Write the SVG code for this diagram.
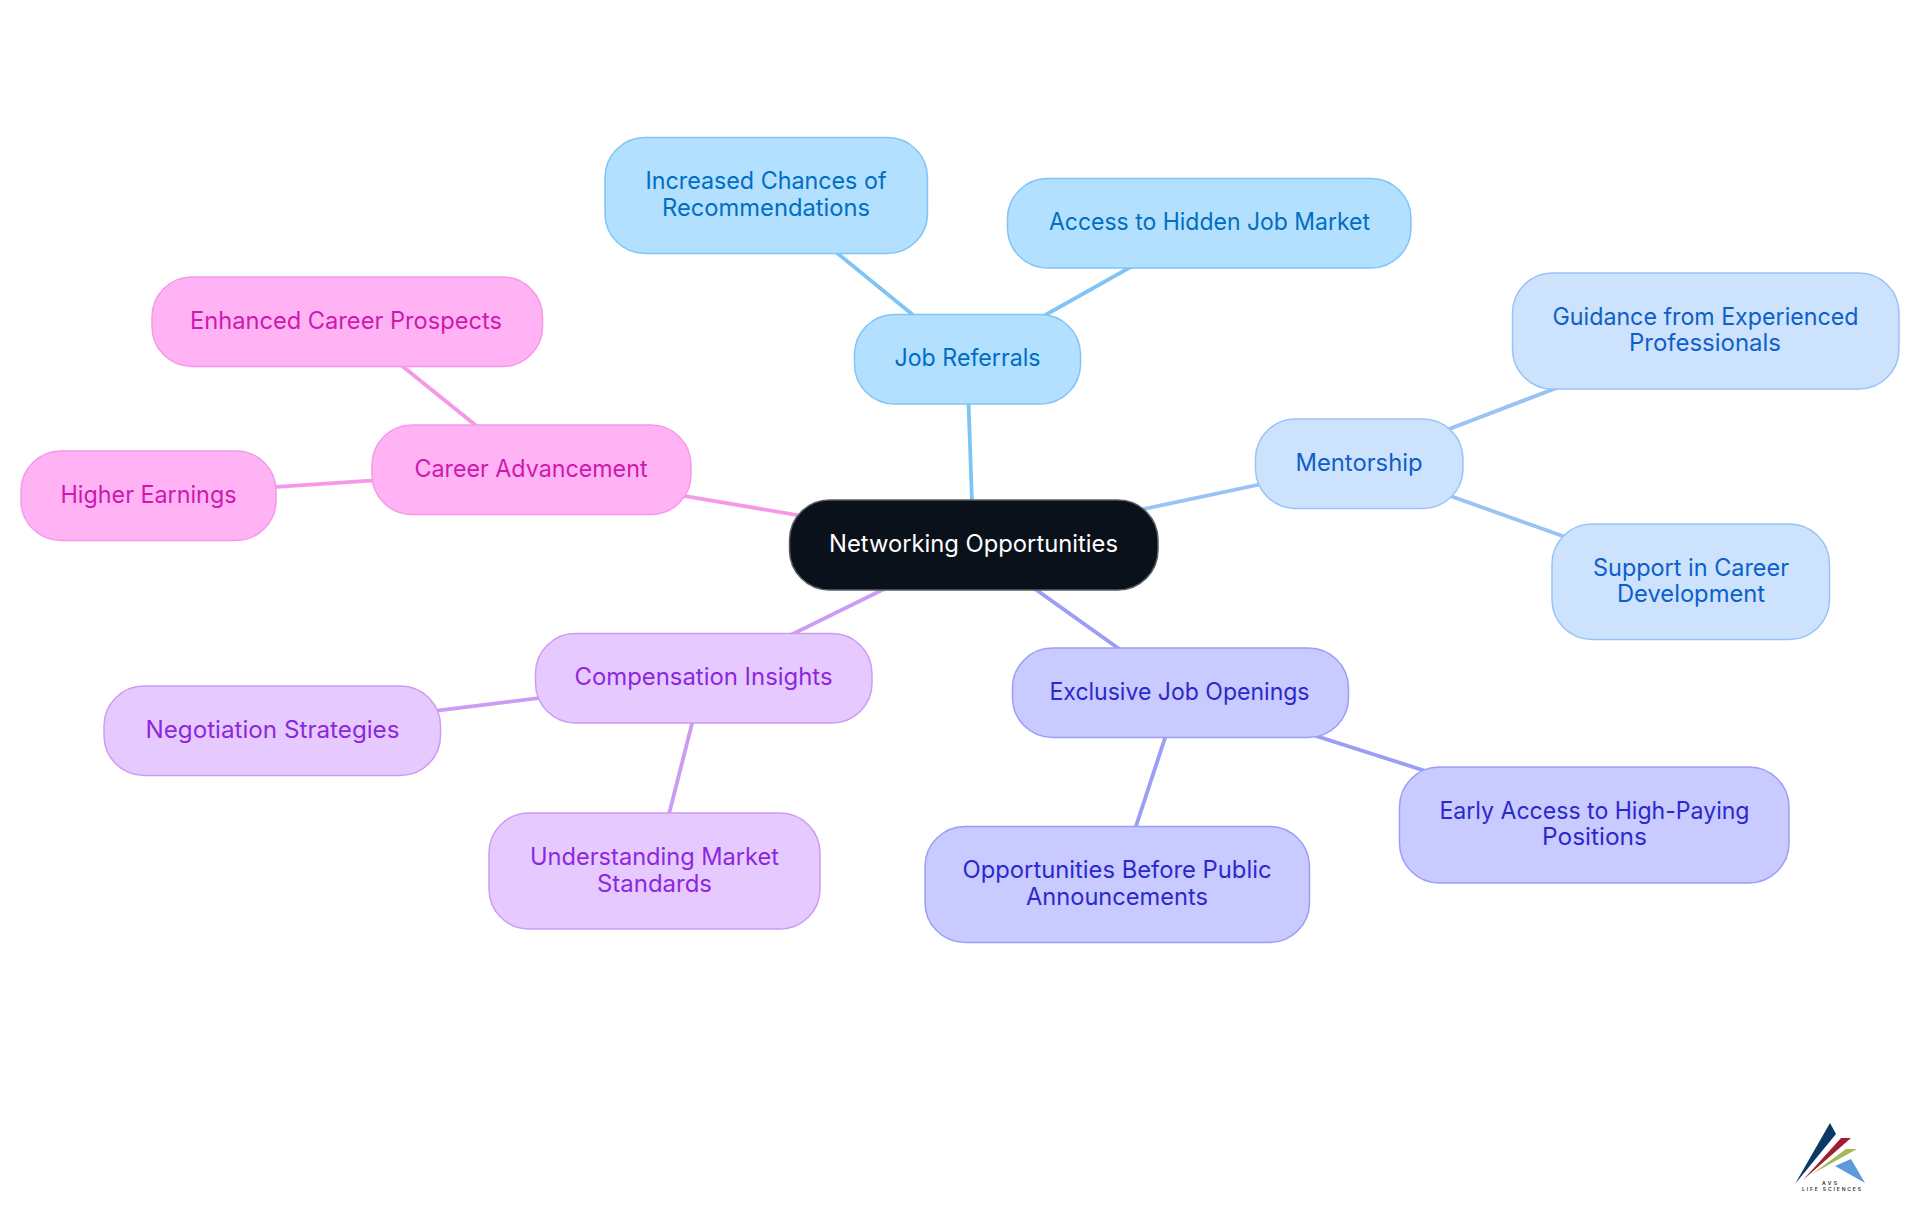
<svg xmlns="http://www.w3.org/2000/svg" width="1920" height="1215" viewBox="0 0 1920 1215">
<style>
text{font-family:"Inter","Noto Sans","Liberation Sans",sans-serif;font-size:24px;font-weight:380;text-anchor:middle}
rect{stroke-width:1.5}
line{stroke-width:3.8;fill:none}
.root rect{fill:#0a111a;stroke:#5a5e64}.root text{fill:#fff}
.a rect{fill:#b3e0ff;stroke:#80c4f5}.a text{fill:#006ec2}.a-l{stroke:#80c4f5}
.b rect{fill:#cde3fd;stroke:#99c3f5}.b text{fill:#0d60ca}.b-l{stroke:#99c3f5}
.c rect{fill:#c9caff;stroke:#9b9ef5}.c text{fill:#2b29cc}.c-l{stroke:#9b9ef5}
.d rect{fill:#e6caff;stroke:#cb9cf2}.d text{fill:#8c28dc}.d-l{stroke:#cb9cf2}
.e rect{fill:#ffb3f5;stroke:#f598e8}.e text{fill:#cf18ae}.e-l{stroke:#f598e8}
.logo text{fill:#333;font-size:5px;font-weight:600}
</style>
<rect width="1920" height="1215" fill="#fff" style="stroke:none"/>
<g id="connectors">
<line class="a-l" x1="973.5" y1="545" x2="967" y2="359"/>
<line class="a-l" x1="967" y1="359" x2="766" y2="195"/>
<line class="a-l" x1="967" y1="359" x2="1209" y2="223"/>
<line class="b-l" x1="973.5" y1="545" x2="1359" y2="463.5"/>
<line class="b-l" x1="1359" y1="463.5" x2="1705.5" y2="331"/>
<line class="b-l" x1="1359" y1="463.5" x2="1690.5" y2="581.5"/>
<line class="c-l" x1="973.5" y1="545" x2="1180" y2="692.3"/>
<line class="c-l" x1="1180" y1="692.3" x2="1594" y2="825"/>
<line class="c-l" x1="1180" y1="692.3" x2="1117" y2="884"/>
<line class="d-l" x1="973.5" y1="545" x2="703.7" y2="677.7"/>
<line class="d-l" x1="703.7" y1="677.7" x2="272" y2="731"/>
<line class="d-l" x1="703.7" y1="677.7" x2="654.5" y2="871"/>
<line class="e-l" x1="973.5" y1="545" x2="531" y2="470"/>
<line class="e-l" x1="531" y1="470" x2="347" y2="321.5"/>
<line class="e-l" x1="531" y1="470" x2="148.5" y2="495.5"/>
</g>
<g id="root" class="root"><rect x="789.5" y="500" width="368.5" height="90" rx="40"/><text x="973.5" y="552" textLength="289" lengthAdjust="spacingAndGlyphs">Networking Opportunities</text></g>
<g id="job-referrals" class="a"><rect x="854.5" y="314.5" width="226" height="89.5" rx="40"/><text x="967.5" y="366" textLength="146" lengthAdjust="spacingAndGlyphs">Job Referrals</text></g>
<g id="increased-chances" class="a"><rect x="605" y="137.5" width="322.5" height="116" rx="40"/><text x="766" y="189" textLength="241" lengthAdjust="spacingAndGlyphs">Increased Chances of</text><text x="766" y="215.5" textLength="208" lengthAdjust="spacingAndGlyphs">Recommendations</text></g>
<g id="access-hidden" class="a"><rect x="1007.5" y="178.5" width="403.5" height="89.5" rx="40"/><text x="1209.5" y="230" textLength="321" lengthAdjust="spacingAndGlyphs">Access to Hidden Job Market</text></g>
<g id="mentorship" class="b"><rect x="1255.5" y="419" width="207.5" height="89.5" rx="40"/><text x="1359" y="470.5" textLength="127" lengthAdjust="spacingAndGlyphs">Mentorship</text></g>
<g id="guidance" class="b"><rect x="1512.5" y="273" width="386.5" height="116" rx="40"/><text x="1705.5" y="325" textLength="306" lengthAdjust="spacingAndGlyphs">Guidance from Experienced</text><text x="1705" y="351" textLength="152" lengthAdjust="spacingAndGlyphs">Professionals</text></g>
<g id="support" class="b"><rect x="1552" y="524" width="277.5" height="115.5" rx="40"/><text x="1691" y="575.5" textLength="196" lengthAdjust="spacingAndGlyphs">Support in Career</text><text x="1691" y="602" textLength="148" lengthAdjust="spacingAndGlyphs">Development</text></g>
<g id="exclusive" class="c"><rect x="1012.5" y="648" width="336" height="89.5" rx="40"/><text x="1179.5" y="700" textLength="260" lengthAdjust="spacingAndGlyphs">Exclusive Job Openings</text></g>
<g id="early-access" class="c"><rect x="1399.5" y="767" width="389.5" height="116" rx="40"/><text x="1594.5" y="818.5" textLength="310" lengthAdjust="spacingAndGlyphs">Early Access to High-Paying</text><text x="1594.5" y="845" textLength="105" lengthAdjust="spacingAndGlyphs">Positions</text></g>
<g id="opportunities" class="c"><rect x="925" y="826.5" width="384.5" height="116" rx="40"/><text x="1117" y="878" textLength="309" lengthAdjust="spacingAndGlyphs">Opportunities Before Public</text><text x="1117" y="904.5" textLength="182" lengthAdjust="spacingAndGlyphs">Announcements</text></g>
<g id="compensation" class="d"><rect x="535.5" y="633.5" width="336.5" height="89.5" rx="40"/><text x="703.5" y="685" textLength="258" lengthAdjust="spacingAndGlyphs">Compensation Insights</text></g>
<g id="negotiation" class="d"><rect x="104" y="686" width="336.5" height="89.5" rx="40"/><text x="272.5" y="738" textLength="254" lengthAdjust="spacingAndGlyphs">Negotiation Strategies</text></g>
<g id="understanding" class="d"><rect x="489" y="813" width="331" height="116" rx="40"/><text x="654.5" y="865" textLength="249" lengthAdjust="spacingAndGlyphs">Understanding Market</text><text x="654.5" y="892" textLength="115" lengthAdjust="spacingAndGlyphs">Standards</text></g>
<g id="career" class="e"><rect x="372" y="425" width="319" height="89.5" rx="40"/><text x="531" y="477" textLength="233" lengthAdjust="spacingAndGlyphs">Career Advancement</text></g>
<g id="enhanced" class="e"><rect x="152" y="277" width="390.5" height="89.5" rx="40"/><text x="346" y="328.5" textLength="312" lengthAdjust="spacingAndGlyphs">Enhanced Career Prospects</text></g>
<g id="higher" class="e"><rect x="21" y="451" width="255" height="89.5" rx="40"/><text x="148.5" y="502.5" textLength="176" lengthAdjust="spacingAndGlyphs">Higher Earnings</text></g>
<g id="logo" class="logo">
<polygon points="1795,1184 1830,1123 1836,1134" fill="#0c3866"/>
<polygon points="1803,1180 1841,1138 1851,1138" fill="#a31c35"/>
<polygon points="1812,1174 1846,1149 1857,1149" fill="#a5b95a"/>
<polygon points="1835,1166 1851,1159 1865,1183" fill="#5d9ad8"/>
<text x="1829.5" y="1185" textLength="15">AVS</text>
<text x="1831.5" y="1191" textLength="59">LIFE SCIENCES</text>
</g>
</svg>
